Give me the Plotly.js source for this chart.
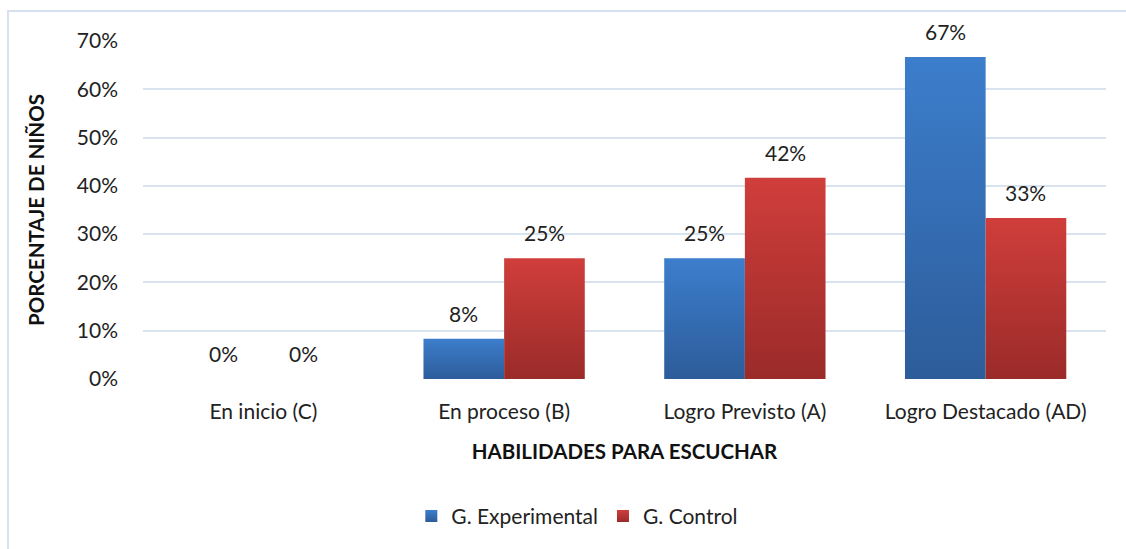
<!DOCTYPE html>
<html>
<head>
<meta charset="utf-8">
<script src="https://cdn.plot.ly/plotly-3.0.1.min.js"></script>
<style>
  html, body { margin: 0; padding: 0; background: #ffffff; }
  #wrap { position: relative; width: 1126px; height: 549px; overflow: hidden; }
  #chart { position: absolute; left: 0; top: 0; width: 1126px; height: 549px; }
  #frame { position: absolute; left: 7px; top: 10px; width: 2000px; height: 2000px;
           border-left: 2px solid #D6E0EE; border-top: 2px solid #D6E0EE; pointer-events: none; }
</style>
</head>
<body>
<div id="wrap">
  <div id="chart"></div>
  <div id="frame"></div>
</div>
<script>
const categories = ['En inicio (C)', 'En proceso (B)', 'Logro Previsto (A)', 'Logro Destacado (AD)'];
const experimental = [0, 8.33, 25, 66.67];
const control = [0, 25, 41.67, 33.33];
const experimentalLabels = ['0%', '8%', '25%', '67%'];
const controlLabels = ['0%', '25%', '42%', '33%'];
const seriesNames = ['G. Experimental', 'G. Control'];
const yTickVals = [0, 10, 20, 30, 40, 50, 60, 70];
const yTickText = ['0%', '10%', '20%', '30%', '40%', '50%', '60%', '70%'];

const FONT = 'Lato, "Open Sans", sans-serif';
const FS = 21;
const BARGAP = 0.33;

const traces = [
  { type: 'bar', name: seriesNames[0], x: categories, y: experimental,
    marker: { color: '#3870B8' }, hoverinfo: 'skip' },
  { type: 'bar', name: seriesNames[1], x: categories, y: control,
    marker: { color: '#BC3533' }, hoverinfo: 'skip' }
];

const plotW = 1126 - 143 - 20;
const barPx = plotW / categories.length * (1 - BARGAP) / 2;
const annotations = [];
[[experimental, experimentalLabels, -1], [control, controlLabels, 1]].forEach(([vals, labs, side]) => {
  vals.forEach((v, j) => {
    annotations.push({ x: categories[j], y: v, xref: 'x', yref: 'y', text: labs[j],
      showarrow: false, yanchor: 'bottom', yshift: 11, xshift: side * barPx / 2,
      font: { family: FONT, size: FS, color: '#222222' } });
  });
});

const layout = {
  width: 1126, height: 549,
  margin: { l: 143, r: 20, t: 41, b: 168 },
  paper_bgcolor: 'rgba(0,0,0,0)', plot_bgcolor: 'rgba(0,0,0,0)',
  barmode: 'group', bargap: BARGAP, bargroupgap: 0,
  font: { family: FONT, size: FS, color: '#222222' },
  showlegend: true,
  legend: { orientation: 'h', x: 0.451, xanchor: 'center', y: -0.406, yanchor: 'middle',
    font: { family: FONT, size: FS, color: '#222222' }, itemwidth: 30, tracegroupgap: 0 },
  xaxis: { type: 'category', showgrid: false, zeroline: false, showline: false, ticks: '',
    automargin: false, ticklabelstandoff: 18,
    tickfont: { family: FONT, size: FS, color: '#222222' },
    title: { text: 'HABILIDADES PARA ESCUCHAR', standoff: 22,
      font: { family: FONT, size: 20.5, color: '#111111', weight: 'bold' } } },
  yaxis: { range: [0, 70], tickvals: yTickVals, ticktext: yTickText, showgrid: true,
    gridcolor: '#D9E2EF', gridwidth: 2, zeroline: false, showline: false, ticks: '',
    automargin: false, ticklabelstandoff: 24,
    tickfont: { family: FONT, size: FS, color: '#222222' },
    title: { text: 'PORCENTAJE DE NIÑOS', standoff: 26,
      font: { family: FONT, size: 20.5, color: '#111111', weight: 'bold' } } },
  annotations: annotations
};

Plotly.newPlot('chart', traces, layout, { staticPlot: true, displayModeBar: false }).then(gd => {
  const svg = gd.querySelector('svg.main-svg');
  const ns = 'http://www.w3.org/2000/svg';
  let defs = svg.querySelector('defs');
  if (!defs) { defs = document.createElementNS(ns, 'defs'); svg.insertBefore(defs, svg.firstChild); }
  const grads = [['gradExp', '#3C7ECC', '#2D5C9A'], ['gradCtl', '#D03E3B', '#9A2B29']];
  grads.forEach(([id, c1, c2]) => {
    const lg = document.createElementNS(ns, 'linearGradient');
    lg.setAttribute('id', id); lg.setAttribute('x1', '0'); lg.setAttribute('y1', '0');
    lg.setAttribute('x2', '0'); lg.setAttribute('y2', '1');
    [[0, c1], [1, c2]].forEach(([o, c]) => {
      const s = document.createElementNS(ns, 'stop');
      s.setAttribute('offset', o); s.setAttribute('stop-color', c);
      lg.appendChild(s);
    });
    defs.appendChild(lg);
  });
  const traceGroups = gd.querySelectorAll('.barlayer .trace');
  traceGroups.forEach((tg, i) => {
    tg.querySelectorAll('path').forEach(p => { p.style.fill = 'url(#' + grads[i][0] + ')'; });
  });
  const legendPts = gd.querySelectorAll('.legend .traces .legendpoints path');
  legendPts.forEach((p, i) => { if (grads[i]) p.style.fill = 'url(#' + grads[i][0] + ')'; });
});
</script>
</body>
</html>
